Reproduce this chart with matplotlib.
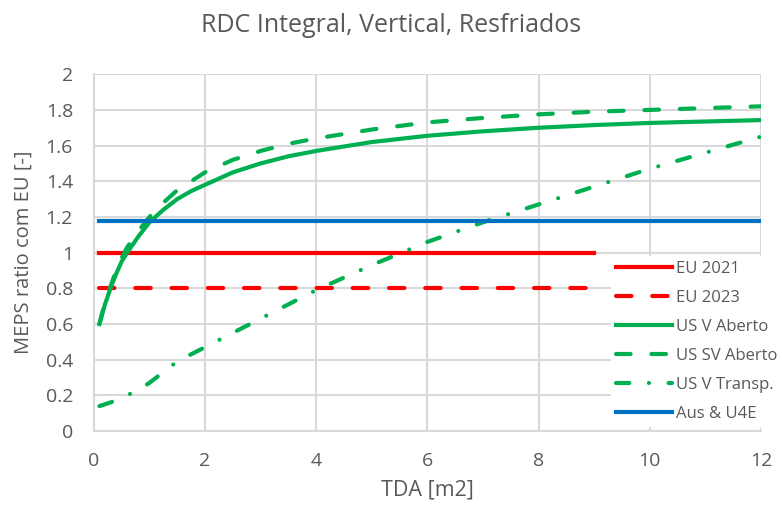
import matplotlib
matplotlib.use("Agg")
import matplotlib.pyplot as plt
from matplotlib.ticker import FuncFormatter

# data
x_us = [0.1, 0.2, 0.3, 0.4, 0.5, 0.6, 0.8, 1, 1.25, 1.5, 1.75, 2, 2.5, 3, 3.5,
        4, 5, 6, 7, 8, 9, 10, 11, 12]
us_v_aberto = [0.60, 0.71, 0.80, 0.88, 0.95, 1.00, 1.09, 1.17, 1.24, 1.30, 1.345,
               1.38, 1.45, 1.50, 1.54, 1.57, 1.62, 1.655, 1.68, 1.70, 1.715,
               1.727, 1.735, 1.743]
us_sv_aberto = [0.60, 0.72, 0.81, 0.90, 0.97, 1.03, 1.12, 1.20, 1.28, 1.35, 1.40,
                1.45, 1.52, 1.57, 1.61, 1.64, 1.69, 1.73, 1.755, 1.775, 1.79,
                1.80, 1.81, 1.82]

x_transp = [0.1, 0.3, 0.5, 0.75, 1, 1.25, 1.5, 1.75, 2, 2.5, 3, 3.5, 4, 4.5, 5,
            5.5, 6, 7, 8, 9, 10, 11, 12]
us_v_transp = [0.14, 0.16, 0.19, 0.22, 0.27, 0.33, 0.39, 0.43, 0.47, 0.55, 0.63,
               0.71, 0.79, 0.86, 0.93, 0.995, 1.06, 1.17, 1.27, 1.37, 1.47,
               1.56, 1.65]

x_eu = [0.1, 9]
eu_2021 = [1.0, 1.0]
eu_2023 = [0.8, 0.8]

x_aus = [0.1, 12]
aus_u4e = [1.18, 1.18]

RED = "#FF0000"
GREEN = "#00B050"
BLUE = "#0070C0"
TXT = "#595959"
GRID = "#D9D9D9"

plt.rcParams['font.family'] = ['Open Sans', 'DejaVu Sans']

fig = plt.figure(figsize=(7.82, 5.05), dpi=100)
ax = fig.add_axes([0.120, 0.1465, 0.853, 0.7065])

lw = 3.0
ax.plot(x_eu, eu_2021, color=RED, lw=lw, label="EU 2021")
ax.plot(x_eu, eu_2023, color=RED, lw=lw, dashes=(3.7, 5.0),
        dash_capstyle='round', label="EU 2023")
ax.plot(x_us, us_v_aberto, color=GREEN, lw=lw, label="US V Aberto")
ax.plot(x_us, us_sv_aberto, color=GREEN, lw=lw, dashes=(3.5, 5.0),
        dash_capstyle='round', label="US SV Aberto")
ax.plot(x_transp, us_v_transp, color=GREEN, lw=lw, dashes=(3.2, 4.7, 0.01, 4.7),
        dash_capstyle='round', label="US V Transp.")
ax.plot(x_aus, aus_u4e, color=BLUE, lw=lw, label="Aus & U4E")

ax.set_xlim(0, 12)
ax.set_ylim(0, 2)
ax.set_xticks(range(0, 13, 2))
ax.set_yticks([i * 0.2 for i in range(11)])
ax.yaxis.set_major_formatter(FuncFormatter(lambda v, p: f"{round(v, 1):g}"))
ax.grid(True, color=GRID, lw=1.5)
ax.set_axisbelow(True)
for s in ["top", "right"]:
    ax.spines[s].set_visible(False)
for s in ["left", "bottom"]:
    ax.spines[s].set_color(GRID)
    ax.spines[s].set_linewidth(1.5)
ax.tick_params(length=0, pad=15, labelsize=14, labelcolor=TXT)

ax.set_xlabel("TDA [m2]", fontsize=15.5, color=TXT, labelpad=7)
ax.set_ylabel("MEPS ratio com EU [-]", fontsize=14.5, color=TXT)
ax.yaxis.set_label_coords(-0.09, 0.5)
fig.suptitle("RDC Integral, Vertical, Resfriados", fontsize=18, color=TXT, y=0.975)

leg = ax.legend(loc="upper left", bbox_to_anchor=(0.775, 0.49), frameon=True,
                fontsize=12, handlelength=3.4, labelspacing=0.78,
                handletextpad=0.2, borderpad=0.3, borderaxespad=0)
leg.get_frame().set_facecolor("white")
leg.get_frame().set_edgecolor("none")
leg.get_frame().set_alpha(1)
for t in leg.get_texts():
    t.set_color(TXT)

fig.savefig("out.png", dpi=100)
